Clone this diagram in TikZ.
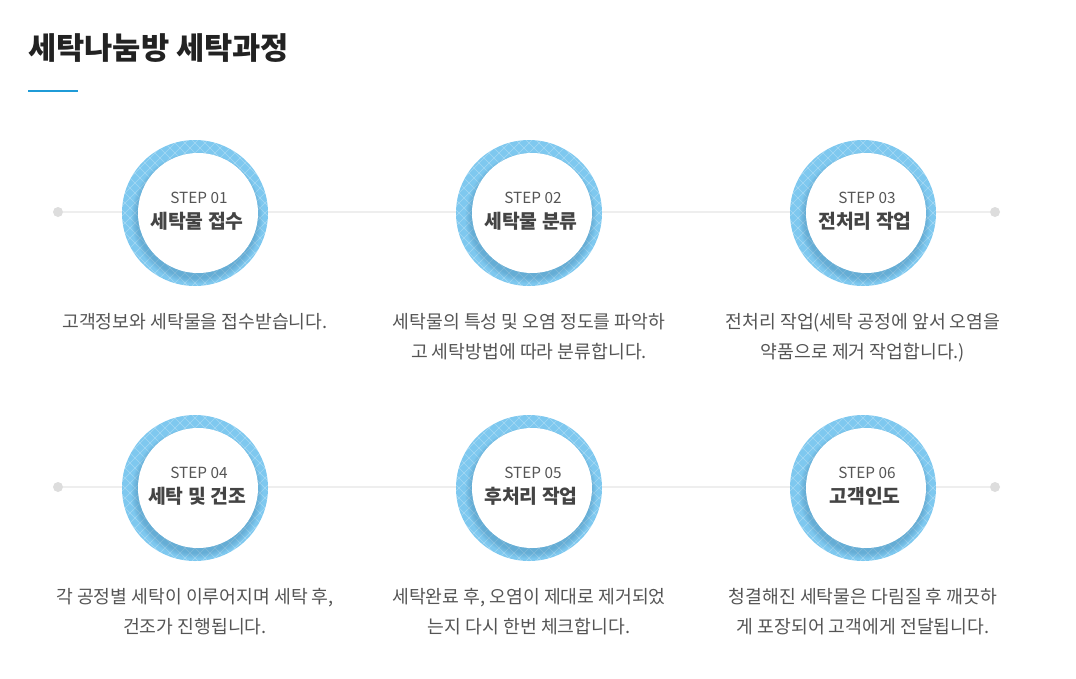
\documentclass[tikz,border=0pt]{standalone}
\usepackage{fontspec}
\setmainfont{Noto Sans CJK KR}
\definecolor{ringblue}{HTML}{7EC8EF}
\definecolor{accent}{HTML}{1F9BD7}
\definecolor{linegray}{HTML}{EEEEEE}
\definecolor{dotgray}{HTML}{DDDDDD}
\definecolor{stepgray}{HTML}{555555}
\definecolor{titlegray}{HTML}{444444}
\definecolor{descgray}{HTML}{555555}
\definecolor{headdark}{HTML}{222222}
\definecolor{shadowblue}{HTML}{1E5F8A}
\tikzset{
  enddot/.style={circle,fill=dotgray,inner sep=0pt,minimum size=7.5pt},
  connline/.style={draw=linegray,line width=1.2pt},
  steplbl/.style={font=\fontsize{11.5}{13}\selectfont,text=stepgray,inner sep=0pt},
  steptitle/.style={font=\fontsize{14.5}{16}\bfseries\selectfont,text=titlegray,inner sep=0pt},
  desc/.style={font=\fontsize{13.7}{22.8}\selectfont,text=descgray,align=center,inner sep=0pt},
  headline/.style={font=\fontsize{23}{26}\bfseries\selectfont,text=headdark,inner sep=0pt,anchor=west},
  hatch/.style={white,opacity=0.3,line width=0.5pt},
}
\begin{document}
\begin{tikzpicture}[x=0.75pt,y=-0.75pt]
\useasboundingbox (0,0) rectangle (1076,679);
% heading
\node[headline] (head) at (28,48) {세탁나눔방 세탁과정};
\coordinate (ulA) at (28,91);
\coordinate (ulB) at (78,91);
\draw[accent,line width=1.5pt] (ulA) -- (ulB);
% connector lines
\node[enddot] (l1) at (58,212) {};
\node[enddot] (r1) at (995,212) {};
\draw[connline] (l1) -- (r1);
\node[enddot] (l2) at (58,487) {};
\node[enddot] (r2) at (995,487) {};
\draw[connline] (l2) -- (r2);
% rings
\foreach \cx/\cy in {195/213,529/213,863/213,195/488,529/488,863/488}{
  \fill[ringblue] (\cx,\cy) circle[radius=73];
  \begin{scope}
    \clip (\cx,\cy) circle[radius=73];
    \foreach \k in {-170,-160,...,170}{
      \draw[hatch] (\cx+\k-80,\cy-80) -- (\cx+\k+80,\cy+80);
      \draw[hatch] (\cx+\k-80,\cy+80) -- (\cx+\k+80,\cy-80);
    }
  \end{scope}
  \foreach \r in {60.5,61.5,62.5,63.5,64.5,65.5}{
    \fill[shadowblue,opacity=0.045] (\cx+2,\cy+5) circle[radius=\r];
  }
  \fill[white] (\cx+3,\cy) circle[radius=60];
}
% step texts
\node[steplbl] (s1) at (199,198) {STEP 01};
\node[steptitle] (t1) at (197,221) {세탁물 접수};
\node[steplbl] (s2) at (533,198) {STEP 02};
\node[steptitle] (t2) at (531,221) {세탁물 분류};
\node[steplbl] (s3) at (867,198) {STEP 03};
\node[steptitle] (t3) at (865,221) {전처리 작업};
\node[steplbl] (s4) at (199,473) {STEP 04};
\node[steptitle] (t4) at (197,496) {세탁 및 건조};
\node[steplbl] (s5) at (533,473) {STEP 05};
\node[steptitle] (t5) at (531,496) {후처리 작업};
\node[steplbl] (s6) at (867,473) {STEP 06};
\node[steptitle] (t6) at (865,496) {고객인도};
% descriptions
\node[desc,anchor=north] (d1) at (195,313) {고객정보와 세탁물을 접수받습니다.};
\node[desc,anchor=north] (d2) at (529,313) {세탁물의 특성 및 오염 정도를 파악하\\고 세탁방법에 따라 분류합니다.};
\node[desc,anchor=north] (d3) at (863,313) {전처리 작업(세탁 공정에 앞서 오염을\\약품으로 제거 작업합니다.)};
\node[desc,anchor=north] (d4) at (195,588) {각 공정별 세탁이 이루어지며 세탁 후,\\건조가 진행됩니다.};
\node[desc,anchor=north] (d5) at (529,588) {세탁완료 후, 오염이 제대로 제거되었\\는지 다시 한번 체크합니다.};
\node[desc,anchor=north] (d6) at (863,588) {청결해진 세탁물은 다림질 후 깨끗하\\게 포장되어 고객에게 전달됩니다.};
\end{tikzpicture}
\end{document}
